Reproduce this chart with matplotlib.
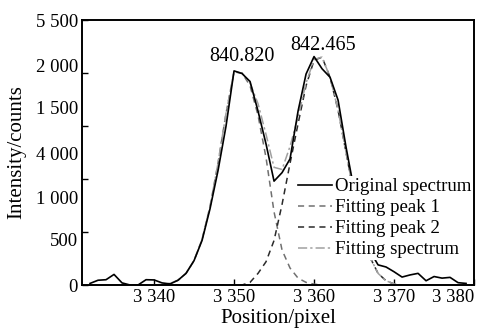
import numpy as np
import matplotlib
matplotlib.use('Agg')
import matplotlib.pyplot as plt

plt.rcParams['font.family'] = ['Liberation Serif', 'DejaVu Serif']

# original spectrum, read at every pixel position
orig_x = list(range(3332, 3380))
orig_y = [15, 45, 50, 100, 20, 0, 0, 50, 48, 20,
          10, 45, 110, 230, 420, 720, 1080, 1500, 2020, 1995,
          1920, 1640, 1330, 980, 1060, 1190, 1640, 1990, 2155, 2040,
          1960, 1745, 1300, 900, 600, 320, 190, 170, 125, 75,
          95, 110, 40, 80, 65, 72, 22, 15]

# fitted peaks
fit_x = list(range(3340, 3372))
peak1_y = [0, 5, 15, 45, 110, 230, 430, 740, 1150, 1620,
           2010, 2000, 1880, 1600, 1200, 690, 330, 160, 65, 25,
           8, 0, 0, 0, 0, 0, 0, 0, 0, 0, 0, 0]
peak2_y = [0, 0, 0, 0, 0, 0, 0, 0, 0, 0,
           0, 0, 25, 110, 220, 420, 760, 1148, 1520, 1880,
           2120, 2150, 1960, 1650, 1250, 850, 500, 260, 110, 40,
           10, 0]
fit_y = [0, 5, 15, 45, 110, 230, 430, 740, 1150, 1620,
         2010, 2000, 1905, 1710, 1420, 1110, 1090, 1308, 1585, 1905,
         2128, 2150, 1960, 1650, 1250, 850, 500, 260, 110, 40,
         10, 0]

# peak labels
peak_labels = ['840.820', '842.465']
peak_pos = [3351.0, 3361.1]
peak_height = [2151, 2264]

x_ticks = [3340, 3350, 3360, 3370, 3380]
x_ticklabels = ['3 340', '3 350', '3 360', '3 370', '3 380']
y_ticks = [0, 500, 1000, 1500, 2000, 2500]
# the tick labels printed on the original figure (as they appear)
y_labels = ['0', '500', '1 000', '4 000', '1 500', '2 000', '5 500']
y_label_pos = [0, 434, 821, 1236, 1670, 2075, 2500]

fig = plt.figure(figsize=(4.95, 3.29), dpi=100)
ax = fig.add_axes([0.1657, 0.1337, 0.792, 0.8055])

ax.plot(fit_x, peak1_y, color='#707070', lw=1.1, ls=(0, (4, 3)), label='Fitting peak 1')
ax.plot(fit_x, peak2_y, color='#2a2a2a', lw=1.1, ls=(0, (4, 3)), label='Fitting peak 2')
ax.plot(fit_x, fit_y, color='#a0a0a0', lw=1.1, ls=(0, (6, 2, 1.5, 2)), label='Fitting spectrum')
ax.plot(orig_x, orig_y, color='black', lw=1.2, label='Original spectrum', zorder=3)

for lab, px, py in zip(peak_labels, peak_pos, peak_height):
    ax.text(px, py, lab, ha='center', va='center', fontsize=14.5)

ax.set_xlim(3331, 3380)
ax.set_ylim(0, 2500)
ax.set_xticks(x_ticks)
ax.set_xticklabels(x_ticklabels, fontsize=13.5)
ax.get_xticklabels()[-1].set_ha('right')
ax.set_yticks(y_ticks)
ax.set_yticklabels([])
ax.yaxis.remove_overlapping_locs = False
ax.set_yticks(y_label_pos, minor=True)
ax.set_yticklabels(y_labels, minor=True, fontsize=13.5)
ax.tick_params(axis='both', which='major', direction='in', length=4, width=1, pad=3)
ax.tick_params(axis='y', which='minor', length=0, pad=3)
ax.tick_params(axis='x', which='minor', length=0)
for s in ax.spines.values():
    s.set_linewidth(1.4)

ax.set_xlabel('Position/pixel', fontsize=15, labelpad=2)
ax.set_ylabel('Intensity/counts', fontsize=15, labelpad=7)

h, l = ax.get_legend_handles_labels()
order = [3, 0, 1, 2]
leg = ax.legend([h[i] for i in order], [l[i] for i in order], loc='upper left',
                bbox_to_anchor=(0.546, 0.41), fontsize=13.6, frameon=True,
                facecolor='white', edgecolor='none', framealpha=1, fancybox=False,
                borderpad=0.1, handlelength=1.8, handletextpad=0.15, labelspacing=0.2,
                borderaxespad=0)
leg.set_zorder(5)

plt.savefig('out.png', dpi=100)
